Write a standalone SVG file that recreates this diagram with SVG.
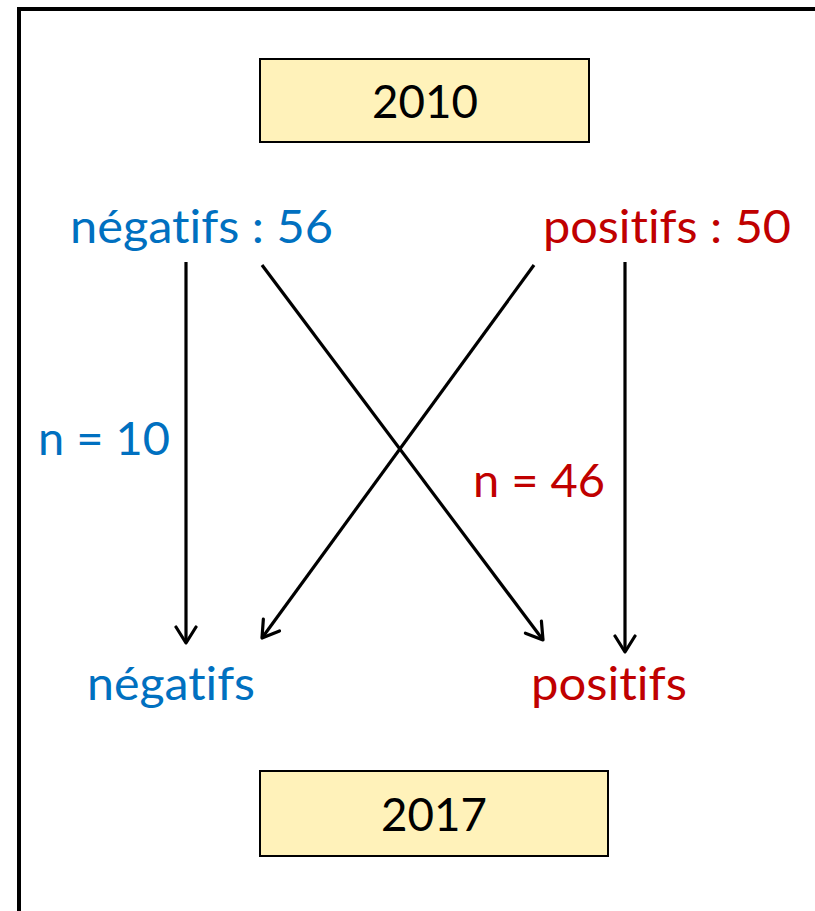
<svg xmlns="http://www.w3.org/2000/svg" width="815" height="911" viewBox="0 0 815 911">
<style>
.t{font-family:Lato,"Open Sans","Liberation Sans",sans-serif;font-size:46px;font-variant-ligatures:none;font-feature-settings:"liga" 0}
.blue{fill:#0070C0}
.red{fill:#C00000}
.box{fill:#FFF2BA;stroke:#000;stroke-width:2}
.c{stroke:#000;stroke-width:3.2;fill:none;marker-end:url(#ah)}
</style>
<defs>
<marker id="ah" markerUnits="userSpaceOnUse" viewBox="-20 -12 24 24" markerWidth="24" markerHeight="24" refX="0" refY="0" orient="auto">
<path d="M -16 -10 L 0 0 L -16 10" fill="none" stroke="#000" stroke-width="3.2" stroke-linecap="round" stroke-linejoin="round"/>
</marker>
</defs>
<rect x="0" y="0" width="815" height="911" fill="#fff"/>
<rect x="19" y="9" width="820" height="920" fill="none" stroke="#000" stroke-width="4"/>
<g id="y2010"><rect class="box" x="260" y="59" width="329" height="83"/><text class="t" x="372" y="118" textLength="106" lengthAdjust="spacingAndGlyphs" fill="#000">2010</text></g>
<g id="y2017"><rect class="box" x="260" y="771" width="348" height="85"/><text class="t" x="381" y="831" textLength="106" lengthAdjust="spacingAndGlyphs" fill="#000">2017</text></g>
<g id="neg2010"><text class="t blue" x="70" y="243" textLength="263" lengthAdjust="spacingAndGlyphs">négatifs : 56</text></g>
<g id="pos2010"><text class="t red" x="543" y="243" textLength="248" lengthAdjust="spacingAndGlyphs">positifs : 50</text></g>
<g id="neg2017"><text class="t blue" x="87" y="700" textLength="168" lengthAdjust="spacingAndGlyphs">négatifs</text></g>
<g id="pos2017"><text class="t red" x="531" y="700" textLength="156" lengthAdjust="spacingAndGlyphs">positifs</text></g>
<g id="connectors">
<line class="c" x1="186" y1="262" x2="186" y2="643"/>
<line class="c" x1="262" y1="265" x2="543" y2="640"/>
<line class="c" x1="534" y1="265" x2="262" y2="638"/>
<line class="c" x1="625" y1="262" x2="625" y2="652"/>
<text class="t blue" x="38" y="455" textLength="132" lengthAdjust="spacingAndGlyphs">n = 10</text>
<text class="t red" x="473" y="497" textLength="132" lengthAdjust="spacingAndGlyphs">n = 46</text>
</g>
</svg>
